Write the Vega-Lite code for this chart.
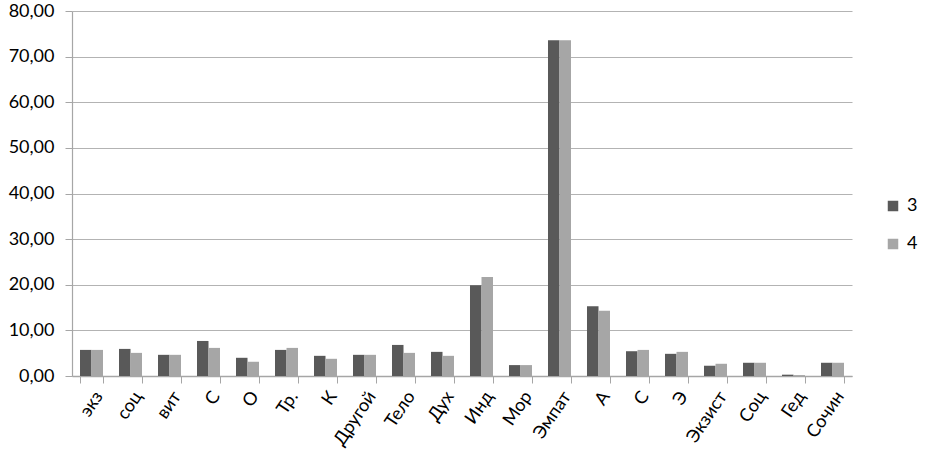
{
  "$schema": "https://vega.github.io/schema/vega-lite/v6.json",
  "autosize": "none",
  "width": 780,
  "height": 365,
  "padding": {"left": 72, "top": 11, "right": 73, "bottom": 80},
  "background": "white",
  "config": {"view": {"stroke": null}, "font": "Lato"},
  "data": {
    "values": [
      {"cat": "экз", "i": 1, "s": "3", "v": 5.72}, {"cat": "экз", "i": 1, "s": "4", "v": 5.72},
      {"cat": "соц", "i": 2, "s": "3", "v": 5.94}, {"cat": "соц", "i": 2, "s": "4", "v": 5.07},
      {"cat": "вит", "i": 3, "s": "3", "v": 4.64}, {"cat": "вит", "i": 3, "s": "4", "v": 4.64},
      {"cat": "С", "i": 4, "s": "3", "v": 7.68}, {"cat": "С", "i": 4, "s": "4", "v": 6.16},
      {"cat": "О", "i": 5, "s": "3", "v": 3.99}, {"cat": "О", "i": 5, "s": "4", "v": 3.12},
      {"cat": "Тр.", "i": 6, "s": "3", "v": 5.72}, {"cat": "Тр.", "i": 6, "s": "4", "v": 6.16},
      {"cat": "К", "i": 7, "s": "3", "v": 4.42}, {"cat": "К", "i": 7, "s": "4", "v": 3.77},
      {"cat": "Другой", "i": 8, "s": "3", "v": 4.64}, {"cat": "Другой", "i": 8, "s": "4", "v": 4.64},
      {"cat": "Тело", "i": 9, "s": "3", "v": 6.81}, {"cat": "Тело", "i": 9, "s": "4", "v": 5.07},
      {"cat": "Дух", "i": 10, "s": "3", "v": 5.29}, {"cat": "Дух", "i": 10, "s": "4", "v": 4.42},
      {"cat": "Инд", "i": 11, "s": "3", "v": 19.9}, {"cat": "Инд", "i": 11, "s": "4", "v": 21.7},
      {"cat": "Мор", "i": 12, "s": "3", "v": 2.39}, {"cat": "Мор", "i": 12, "s": "4", "v": 2.39},
      {"cat": "Эмпат", "i": 13, "s": "3", "v": 73.6}, {"cat": "Эмпат", "i": 13, "s": "4", "v": 73.6},
      {"cat": "А", "i": 14, "s": "3", "v": 15.3}, {"cat": "А", "i": 14, "s": "4", "v": 14.3},
      {"cat": "С ", "i": 15, "s": "3", "v": 5.43}, {"cat": "С ", "i": 15, "s": "4", "v": 5.72},
      {"cat": "Э", "i": 16, "s": "3", "v": 4.86}, {"cat": "Э", "i": 16, "s": "4", "v": 5.29},
      {"cat": "Экзист", "i": 17, "s": "3", "v": 2.25}, {"cat": "Экзист", "i": 17, "s": "4", "v": 2.68},
      {"cat": "Соц", "i": 18, "s": "3", "v": 2.9}, {"cat": "Соц", "i": 18, "s": "4", "v": 2.9},
      {"cat": "Гед", "i": 19, "s": "3", "v": 0.29}, {"cat": "Гед", "i": 19, "s": "4", "v": 0.2},
      {"cat": "Сочин", "i": 20, "s": "3", "v": 2.9}, {"cat": "Сочин", "i": 20, "s": "4", "v": 2.9}
    ]
  },
  "mark": {"type": "bar"},
  "encoding": {
    "x": {
      "field": "cat", "type": "nominal", "sort": {"field": "i"},
      "scale": {"paddingInner": 0.41, "paddingOuter": 0.205},
      "axis": {
        "title": null, "labelAngle": -56, "labelAlign": "right", "labelBaseline": "top",
        "labelFontSize": 18, "labelColor": "#000000", "labelPadding": 5,
        "tickBand": "extent", "tickSize": 7, "tickColor": "#a6a6a6",
        "domainColor": "#a6a6a6", "domainWidth": 1.5
      }
    },
    "xOffset": {"field": "s", "type": "nominal"},
    "y": {
      "field": "v", "type": "quantitative",
      "scale": {"domain": [0, 80], "nice": false},
      "axis": {
        "title": null, "values": [0, 10, 20, 30, 40, 50, 60, 70, 80],
        "labelExpr": "replace(format(datum.value, '.2f'), '.', ',')",
        "labelFontSize": 18, "labelColor": "#000000", "labelPadding": 11,
        "grid": true, "gridColor": "#b3b3b3", "gridWidth": 1.2,
        "tickSize": 7, "tickColor": "#a6a6a6",
        "domain": true, "domainColor": "#a6a6a6", "domainWidth": 1.2
      }
    },
    "color": {
      "field": "s", "type": "nominal",
      "scale": {"domain": ["3", "4"], "range": ["#595959", "#a6a6a6"]},
      "legend": {
        "title": null, "orient": "none", "legendX": 812, "legendY": 186,
        "symbolType": "square", "symbolSize": 110, "symbolStrokeWidth": 0,
        "labelFontSize": 18, "labelColor": "#000000", "rowPadding": 20, "labelOffset": 5
      }
    }
  }
}
